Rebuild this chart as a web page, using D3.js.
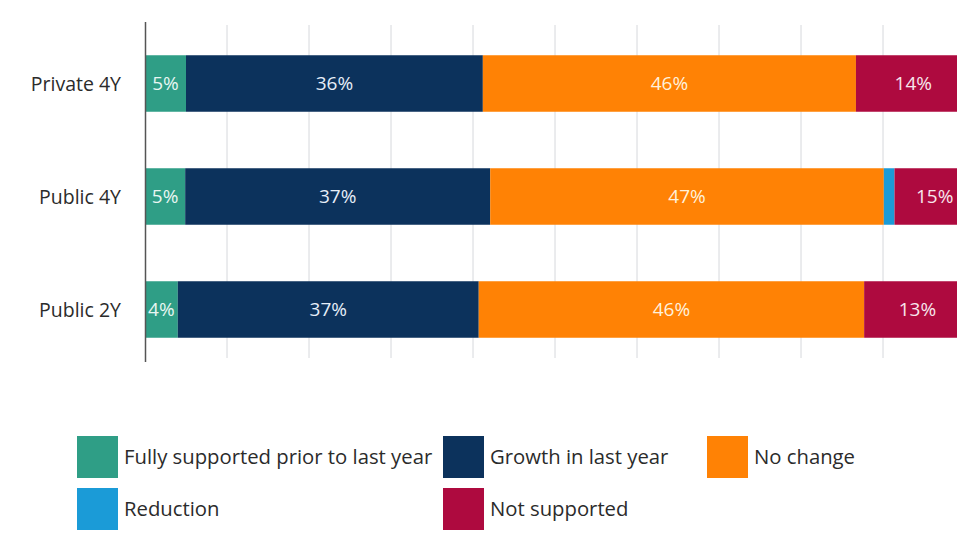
<!DOCTYPE html>
<html><head><meta charset="utf-8">
<script src="https://cdn.jsdelivr.net/npm/d3@7"></script>
<style>body{margin:0;background:#fff}svg{display:block}</style>
</head><body>
<svg id="c" width="957" height="542"></svg>
<script>
const categories = ["Private 4Y", "Public 4Y", "Public 2Y"];
const seriesNames = ["Fully supported prior to last year", "Growth in last year", "No change", "Reduction", "Not supported"];
const seriesColors = ["#2f9e86", "#0c325c", "#ff8205", "#1b9bd7", "#ae0a3f"];
// bar lengths (percent)
const fullySupported = [5.0, 4.9, 4.0];
const growth = [36.2, 37.2, 36.7];
const noChange = [45.5, 48.0, 47.0];
const reduction = [0, 1.3, 0];
const notSupported = [14, 15, 13];
// printed labels
const labelFully = ["5%", "5%", "4%"];
const labelGrowth = ["36%", "37%", "37%"];
const labelNoChange = ["46%", "47%", "46%"];
const labelReduction = ["", "", ""];
const labelNotSupported = ["14%", "15%", "13%"];
const xTicks = [0, 10, 20, 30, 40, 50, 60, 70, 80, 90, 100];

const seriesValues = [fullySupported, growth, noChange, reduction, notSupported];
const seriesLabels = [labelFully, labelGrowth, labelNoChange, labelReduction, labelNotSupported];
const labelColors = ["#e8f6f2", "#e6eef8", "#fff1dc", "#fff", "#f7e6ec"];

const svg = d3.select("#c");
const xMax = 101.2;
const x = d3.scaleLinear().domain([0, xMax]).range([145, 145 + 8.2 * xMax]);
const y = d3.scaleBand().domain(categories).range([27, 366]).paddingInner(0.5).paddingOuter(0.25);

// gridlines
svg.append("g").selectAll("line").data(xTicks.filter(d => d > 0)).join("line")
  .attr("x1", d => x(d)).attr("x2", d => x(d))
  .attr("y1", 25).attr("y2", 358)
  .attr("stroke", "#d6d8dc").attr("stroke-width", 1);

// stacked rows
const rows = categories.map((c, i) => {
  let acc = 0;
  return seriesValues.map((vals, s) => {
    const x0 = acc; acc += vals[i];
    return {cat: c, s, x0, x1: acc, label: seriesLabels[s][i]};
  });
}).flat().filter(d => d.x1 > d.x0);

const g = svg.append("g");
g.selectAll("rect").data(rows).join("rect")
  .attr("x", d => x(d.x0))
  .attr("width", d => x(Math.min(d.x1, xMax)) - x(d.x0))
  .attr("y", d => y(d.cat))
  .attr("height", y.bandwidth())
  .attr("fill", d => seriesColors[d.s]);

g.selectAll("text").data(rows.filter(d => d.label)).join("text")
  .attr("x", d => (x(d.x0) + x(Math.min(d.x1, xMax))) / 2)
  .attr("y", d => y(d.cat) + y.bandwidth() / 2)
  .attr("dy", "0.36em")
  .attr("text-anchor", "middle")
  .attr("font-family", "Open Sans, sans-serif")
  .attr("font-size", 19)
  .attr("fill", d => labelColors[d.s])
  .text(d => d.label);

// axis line
svg.append("line").attr("x1", 145.5).attr("x2", 145.5).attr("y1", 22).attr("y2", 362)
  .attr("stroke", "#555").attr("stroke-width", 1.5);

// category labels
svg.append("g").selectAll("text").data(categories).join("text")
  .attr("x", 121).attr("y", d => y(d) + y.bandwidth() / 2).attr("dy", "0.36em")
  .attr("text-anchor", "end")
  .attr("font-family", "Open Sans, sans-serif").attr("font-size", 19.5)
  .attr("fill", "#2b2b2b").text(d => d);

// legend
const legendPos = [[77, 436], [443, 436], [707, 436], [77, 488], [443, 488]];
const lg = svg.append("g").selectAll("g").data(seriesNames).join("g")
  .attr("transform", (d, i) => `translate(${legendPos[i][0]},${legendPos[i][1]})`);
lg.append("rect").attr("width", 41).attr("height", 42).attr("fill", (d, i) => seriesColors[i]);
lg.append("text").attr("x", 47).attr("y", 21).attr("dy", "0.36em")
  .attr("font-family", "Open Sans, sans-serif").attr("font-size", 20.3)
  .attr("fill", "#2b2b2b").text(d => d);
</script>
</body></html>
